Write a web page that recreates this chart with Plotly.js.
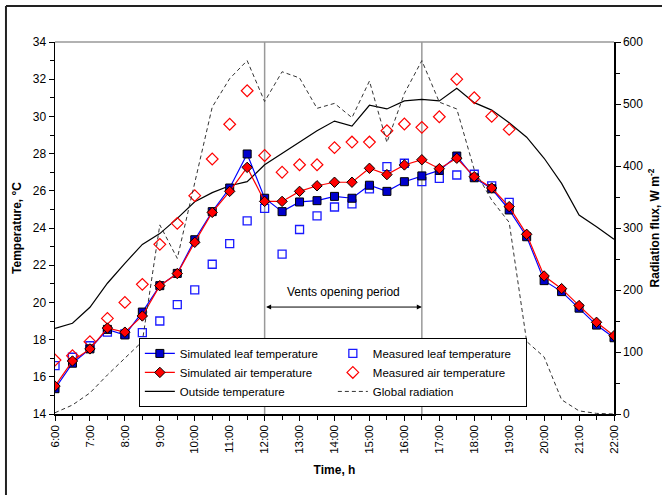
<!DOCTYPE html>
<html>
<head>
<meta charset="utf-8">
<script src="https://cdn.plot.ly/plotly-3.0.1.min.js"></script>
<style>
html,body{margin:0;padding:0;background:#fff;}
#chart{width:662px;height:495px;}
</style>
</head>
<body>
<div id="chart"></div>
<script>
// ---- data ----
const timeAll = [6,6.5,7,7.5,8,8.5,9,9.5,10,10.5,11,11.5,12,12.5,13,13.5,14,14.5,15,15.5,16,16.5,17,17.5,18,18.5,19,19.5,20,20.5,21,21.5,22];
const timeMeas = [6,6.5,7,7.5,8,8.5,9,9.5,10,10.5,11,11.5,12,12.5,13,13.5,14,14.5,15,15.5,16,16.5,17,17.5,18,18.5,19];

const simLeaf = [15.36,16.73,17.5,18.55,18.25,19.48,20.9,21.56,23.37,24.88,26.15,27.98,25.6,24.88,25.4,25.47,25.7,25.6,26.3,25.97,26.49,26.8,27.1,27.87,26.7,26.11,24.97,23.53,21.17,20.58,19.69,18.78,18.1];
const simAir = [15.5,16.85,17.5,18.62,18.4,19.27,20.9,21.55,23.23,24.84,25.97,27.26,25.43,25.43,25.97,26.27,26.46,26.46,27.21,26.87,27.39,27.67,27.19,27.75,26.76,26.15,25.15,23.66,21.42,20.74,19.83,18.93,18.21];
const measLeaf = [16.6,17.05,17.67,18.4,18.3,18.37,19.0,19.88,20.67,22.05,23.16,24.38,25.06,22.6,23.92,24.65,25.13,25.3,26.1,27.3,27.48,26.49,26.67,26.85,26.89,26.26,25.38];
const measAir = [16.9,17.13,17.89,19.14,20.0,20.97,23.12,24.25,25.74,27.71,29.58,31.38,27.9,27.0,27.4,27.4,28.32,28.62,28.62,29.23,29.59,29.41,29.98,32.0,31.0,30.0,29.3];
const outsideT = [18.6,18.88,19.74,21.03,22.1,23.12,23.7,24.52,25.41,25.9,26.27,26.49,27.4,28.02,28.64,29.23,29.75,29.48,30.6,30.4,30.83,30.92,30.83,31.51,30.74,30.34,29.66,28.88,27.75,26.4,24.7,24.07,23.39];
const globalRad = [2,14.5,34,63,90,117,305,251,373,495,541,570,504,552,542,493,501,478,537,438,517,570,503,492,394,345,309,117,92,23,5,1,0];

const tickHours = [6,7,8,9,10,11,12,13,14,15,16,17,18,19,20,21,22];
const tickLabels = tickHours.map(h => h + ':00');
const ventStart = 12, ventEnd = 16.5;
const ventLabel = 'Vents opening period';

const FONT = 'Liberation Sans, Arial, sans-serif';

const traces = [
  {x: timeAll, y: globalRad, yaxis: 'y2', name: 'Global radiation', mode: 'lines',
   line: {color: '#333', width: 1, dash: '4px,3px'}, legendrank: 6},
  {x: timeAll, y: outsideT, name: 'Outside temperature', mode: 'lines',
   line: {color: '#000', width: 1.2}, legendrank: 5},
  {x: timeMeas, y: measLeaf, name: 'Measured leaf temperature', mode: 'markers',
   marker: {symbol: 'square-open', size: 8, color: '#1a1aff', line: {width: 1.3}}, legendrank: 2},
  {x: timeMeas, y: measAir, name: 'Measured air temperature', mode: 'markers',
   marker: {symbol: 'diamond-open', size: 9, color: '#ff0000', line: {width: 1.2}}, legendrank: 4},
  {x: timeAll, y: simLeaf, name: 'Simulated leaf temperature', mode: 'lines+markers',
   line: {color: '#0000ff', width: 1.2},
   marker: {symbol: 'square', size: 8, color: '#0000cc', line: {color: '#000', width: 1}}, legendrank: 1},
  {x: timeAll, y: simAir, name: 'Simulated air temperature', mode: 'lines+markers',
   line: {color: '#ff0000', width: 1.2},
   marker: {symbol: 'diamond', size: 8, color: '#ff0000', line: {color: '#000', width: 1}}, legendrank: 3}
];

const layout = {
  width: 662, height: 495,
  margin: {l: 55, r: 48, t: 42, b: 81},
  paper_bgcolor: '#fff', plot_bgcolor: '#fff',
  font: {family: FONT, size: 11, color: '#000'},
  showlegend: true,
  legend: {
    orientation: 'h', x: 0.150, y: 0.019, xanchor: 'left', yanchor: 'bottom',
    bgcolor: '#fff', bordercolor: '#000', borderwidth: 1,
    font: {family: FONT, size: 11.5, color: '#000'},
    entrywidth: 148, entrywidthmode: 'pixels', tracegroupgap: 0
  },
  xaxis: {
    range: [6, 22], tickmode: 'array', tickvals: tickHours, ticktext: tickLabels,
    tickangle: -90, ticks: 'outside', ticklen: 5, tickcolor: '#000', tickwidth: 1,
    minor: {dtick: 0.5, tick0: 6, ticks: 'outside', ticklen: 4, tickcolor: '#000'},
    showline: true, linecolor: '#000', linewidth: 1.5, showgrid: false, zeroline: false,
    tickfont: {family: FONT, size: 11.5},
    title: {text: '<b>Time, h</b>', font: {family: FONT, size: 12}, standoff: 12}
  },
  yaxis: {
    range: [14, 34], dtick: 2, tick0: 14, ticks: 'outside', ticklen: 5, tickcolor: '#000',
    minor: {dtick: 1, ticks: 'outside', ticklen: 4, tickcolor: '#000'},
    showline: true, linecolor: '#000', linewidth: 1.5, showgrid: false, zeroline: false,
    tickfont: {family: FONT, size: 12},
    title: {text: '<b>Temperature, °C</b>', font: {family: FONT, size: 12}, standoff: 8}
  },
  yaxis2: {
    range: [0, 600], dtick: 100, overlaying: 'y', side: 'right',
    ticks: 'outside', ticklen: 5, tickcolor: '#000',
    minor: {dtick: 50, ticks: 'outside', ticklen: 4, tickcolor: '#000'},
    showline: true, linecolor: '#000', linewidth: 1.5, showgrid: false, zeroline: false,
    tickfont: {family: FONT, size: 12},
    title: {text: '<b>Radiation flux, W m<sup>-2</sup></b>', font: {family: FONT, size: 12}, standoff: 8}
  },
  shapes: [
    {type: 'line', xref: 'paper', yref: 'paper', x0: 0, x1: 1, y0: 1, y1: 1,
     line: {color: '#999', width: 1.5}},
    {type: 'line', xref: 'x', yref: 'paper', x0: ventStart, x1: ventStart, y0: 0, y1: 1,
     line: {color: '#999', width: 1.5}, layer: 'below'},
    {type: 'line', xref: 'x', yref: 'paper', x0: ventEnd, x1: ventEnd, y0: 0, y1: 1,
     line: {color: '#999', width: 1.5}, layer: 'below'},
    {type: 'line', xref: 'paper', yref: 'paper', x0: -0.0877, x1: -0.0877, y0: 1.0968, y1: -0.25,
     line: {color: '#222', width: 2}},
    {type: 'line', xref: 'paper', yref: 'paper', x0: -0.0877, x1: 1.12, y0: 1.0968, y1: 1.0968,
     line: {color: '#222', width: 2}}
  ],
  annotations: [
    {x: (ventStart + ventEnd) / 2, y: 20.56, xref: 'x', yref: 'y', text: ventLabel,
     showarrow: false, font: {family: FONT, size: 12, color: '#000'}},
    {x: ventEnd, y: 19.75, ax: ventStart, ay: 19.75, xref: 'x', yref: 'y', axref: 'x', ayref: 'y',
     text: '', showarrow: true, arrowhead: 2, startarrowhead: 2, arrowside: 'end+start',
     arrowsize: 1, arrowwidth: 1, arrowcolor: '#000'}
  ]
};

Plotly.newPlot('chart', traces, layout, {displayModeBar: false, staticPlot: true});
</script>
</body>
</html>
